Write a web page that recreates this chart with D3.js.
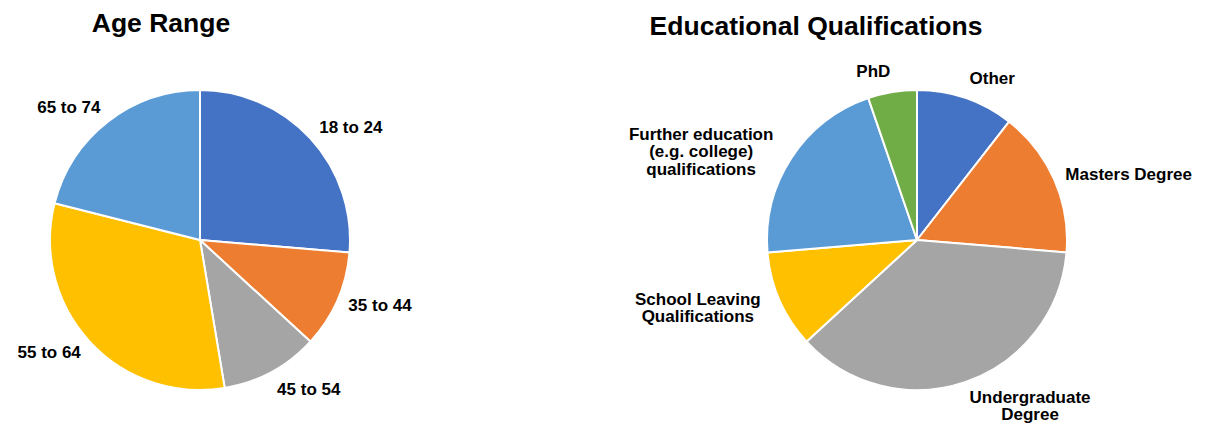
<!DOCTYPE html>
<html>
<head>
<meta charset="utf-8">
<script src="https://cdn.jsdelivr.net/npm/d3@7"></script>
<style>
  body { margin: 0; background: #fff; }
  svg { font-family: "Liberation Sans", Arial, Helvetica, sans-serif; }
</style>
</head>
<body>
<div id="root"></div>
<script>
// datos (conteos, total 19 en cada grafico)
const ageLabels = ["18 to 24", "35 to 44", "45 to 54", "55 to 64", "65 to 74"]
const ageValues = [5, 2, 2, 6, 4]
const ageColors = ["#4472C4", "#ED7D31", "#A5A5A5", "#FFC000", "#5B9BD5"]

const eduLabels = ["Other", "Masters Degree", "Undergraduate|Degree", "School Leaving|Qualifications",
    "Further education|(e.g. college)|qualifications", "PhD"]
const eduValues = [2, 3, 7, 2, 4, 1]
const eduColors = ["#4472C4", "#ED7D31", "#A5A5A5", "#FFC000", "#5B9BD5", "#70AD47"]

const width = 1205
const height = 426
const radius = 150
const lineH = 17.5
const fontSize = 17

const svg = d3.select("#root")
    .append("svg")
    .attr("width", width)
    .attr("height", height)
    .attr("viewBox", `0 0 ${width} ${height}`)

function dibujarPie(cx, cy, title, titleX, titleY, labels, values, colors) {
    const pie = d3.pie().sort(null).value((d) => d)
    const arc = d3.arc().innerRadius(0).outerRadius(radius)
    const arcs = pie(values)

    svg.append("text")
        .attr("x", titleX)
        .attr("y", titleY)
        .attr("text-anchor", "middle")
        .attr("font-size", 26.5)
        .attr("font-weight", "700")
        .attr("fill", "#000")
        .text(title)

    const g = svg.append("g").attr("transform", `translate(${cx} ${cy})`)

    g.selectAll("path")
        .data(arcs)
        .enter()
        .append("path")
        .attr("d", arc)
        .attr("fill", (d, i) => colors[i])
        .attr("stroke", "#fff")
        .attr("stroke-width", 2)
        .attr("stroke-linejoin", "round")

    // etiquetas afuera del pie
    arcs.forEach((d, i) => {
        const a = (d.startAngle + d.endAngle) / 2
        const s = Math.sin(a)
        const c = Math.cos(a)
        const px = (radius + 12) * s
        const py = -(radius + 12) * c
        const lines = labels[i].split("|")
        const h = lines.length * lineH
        const k = Math.max(0, Math.abs(c) - 0.5) * 2
        const multiIzq = lines.length > 1 && s < 0
        const yc = py - Math.sign(c) * k * h / 2 + (multiIzq ? 3 : -3 * (lines.length - 1))

        const t = g.append("text")
            .attr("font-size", fontSize)
            .attr("font-weight", "700")
            .attr("fill", "#000")
            .attr("text-anchor", "middle")

        lines.forEach((l, j) => {
            t.append("tspan")
                .attr("y", yc - h / 2 + lineH * (j + 0.5))
                .attr("dominant-baseline", "central")
                .text(l)
        })
        const w = d3.max(t.selectAll("tspan").nodes(), (n) => n.getComputedTextLength())
        const x = s >= 0 ? px + w / 2 : px - w / 2 - (multiIzq ? 8 : 0)
        t.selectAll("tspan").attr("x", x)
    })
}

dibujarPie(200, 240, "Age Range", 161, 32, ageLabels, ageValues, ageColors)
dibujarPie(917, 240, "Educational Qualifications", 816, 35, eduLabels, eduValues, eduColors)
</script>
</body>
</html>
